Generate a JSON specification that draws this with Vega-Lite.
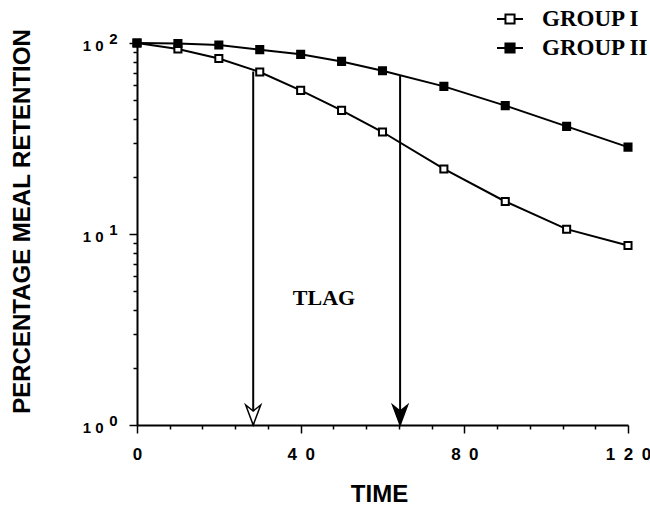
{
  "$schema": "https://vega.github.io/schema/vega-lite/v6.json",
  "width": 491,
  "height": 382,
  "autosize": {"type": "none"},
  "padding": {"left": 137, "top": 43, "right": 22, "bottom": 81},
  "background": "white",
  "config": {
    "view": {"stroke": null},
    "axis": {
      "grid": false,
      "domainColor": "black",
      "domainWidth": 2,
      "tickColor": "black",
      "tickWidth": 1.5,
      "labelColor": "black",
      "labelFont": "Liberation Sans",
      "labelFontWeight": "bold",
      "titleFont": "Liberation Sans",
      "titleFontWeight": "bold",
      "titleColor": "black"
    }
  },
  "datasets": {
    "retention": [
      {"time": 0, "pct": 100, "group": "GROUP I"},
      {"time": 10, "pct": 93, "group": "GROUP I"},
      {"time": 20, "pct": 83, "group": "GROUP I"},
      {"time": 30, "pct": 70.5, "group": "GROUP I"},
      {"time": 40, "pct": 56.5, "group": "GROUP I"},
      {"time": 50, "pct": 44.4, "group": "GROUP I"},
      {"time": 60, "pct": 34.2, "group": "GROUP I"},
      {"time": 75, "pct": 21.9, "group": "GROUP I"},
      {"time": 90, "pct": 14.8, "group": "GROUP I"},
      {"time": 105, "pct": 10.6, "group": "GROUP I"},
      {"time": 120, "pct": 8.7, "group": "GROUP I"},
      {"time": 0, "pct": 100, "group": "GROUP II"},
      {"time": 10, "pct": 99.5, "group": "GROUP II"},
      {"time": 20, "pct": 97.6, "group": "GROUP II"},
      {"time": 30, "pct": 92.3, "group": "GROUP II"},
      {"time": 40, "pct": 87.2, "group": "GROUP II"},
      {"time": 50, "pct": 80.1, "group": "GROUP II"},
      {"time": 60, "pct": 71.6, "group": "GROUP II"},
      {"time": 75, "pct": 59.3, "group": "GROUP II"},
      {"time": 90, "pct": 47, "group": "GROUP II"},
      {"time": 105, "pct": 36.6, "group": "GROUP II"},
      {"time": 120, "pct": 28.5, "group": "GROUP II"}
    ],
    "arrows": [
      {"time": 28.4, "pct": 71, "pct2": 1, "kind": "open"},
      {"time": 64.3, "pct": 68, "pct2": 1, "kind": "filled"}
    ],
    "heads": [
      {"time": 28.4, "pct": 1, "kind": "open"},
      {"time": 64.3, "pct": 1, "kind": "filled"}
    ],
    "notes": [
      {"time": 45.7, "pct": 4.6, "label": "TLAG"}
    ]
  },
  "encoding": {
    "x": {
      "field": "time",
      "type": "quantitative",
      "scale": {"domain": [0, 120], "nice": false, "zero": false},
      "axis": {
        "title": "TIME",
        "titleFontSize": 24,
        "titleX": 242,
        "titleY": 76,
        "titleAlign": "center",
        "titleBaseline": "alphabetic",
        "values": [0, 8, 16, 24, 32, 40, 48, 56, 64, 72, 80, 88, 96, 104, 112, 120],
        "labelExpr": "datum.value == 0 ? '0' : datum.value == 40 ? '4\u20020' : datum.value == 80 ? '8\u20020' : datum.value == 120 ? '1\u20022\u20020' : ''",
        "labelFontSize": 17,
        "tickSize": {"condition": {"test": "datum.value % 40 === 0", "value": 8}, "value": 4},
        "labelPadding": 13,
        "labelFlush": false,
        "labelOverlap": false
      }
    }
  },
  "resolve": {"axis": {"y": "independent"}},
  "layer": [
    {
      "data": {"name": "retention"},
      "mark": {"type": "line", "color": "black", "strokeWidth": 2},
      "encoding": {
        "y": {
          "field": "pct",
          "type": "quantitative",
          "scale": {"type": "log", "domain": [1, 100], "nice": false},
          "axis": {
            "orient": "left",
            "title": "PERCENTAGE MEAL RETENTION",
            "titleFontSize": 24,
            "titleX": -103,
            "titleY": 178,
            "titleAngle": -90,
            "titleAlign": "center",
            "titleBaseline": "bottom",
            "values": [1, 2, 3, 4, 5, 6, 7, 8, 9, 10, 20, 30, 40, 50, 60, 70, 80, 90, 100],
            "labelExpr": "datum.value == 100 || datum.value == 10 || datum.value == 1 ? '1 0' : ''",
            "labelFontSize": 15,
            "labelBaseline": "alphabetic",
            "labelAlign": "right",
            "labelOffset": 7,
            "tickSize": {"condition": {"test": "datum.value === 1 || datum.value === 10 || datum.value === 100", "value": 8}, "value": 4},
            "labelPadding": 26,
            "labelFlush": false,
            "labelOverlap": false
          }
        },
        "detail": {"field": "group", "type": "nominal"}
      }
    },
    {
      "data": {"name": "retention"},
      "mark": {"type": "point", "shape": "square", "size": 50, "filled": true, "stroke": "black", "strokeWidth": 2, "opacity": 1},
      "encoding": {
        "y": {"field": "pct", "type": "quantitative", "scale": {"type": "log", "domain": [1, 100], "nice": false}, "axis": null},
        "fill": {
          "field": "group",
          "type": "nominal",
          "scale": {"domain": ["GROUP I", "GROUP II"], "range": ["white", "black"]},
          "legend": {
            "orient": "none",
            "legendX": 359,
            "legendY": -38,
            "title": null,
            "padding": 0,
            "symbolType": "M-1,0H-0.35M0.35,0H1M-0.35,-0.35H0.35V0.35H-0.35Z",
            "symbolSize": 676,
            "symbolStrokeWidth": 2,
            "symbolStrokeColor": "black",
            "symbolOpacity": 1,
            "labelFont": "Liberation Serif",
            "labelFontWeight": "bold",
            "labelFontSize": 23,
            "labelColor": "black",
            "labelOffset": 18,
            "rowPadding": 3
          }
        }
      }
    },
    {
      "data": {"name": "arrows"},
      "mark": {"type": "rule", "color": "black", "strokeWidth": 2},
      "encoding": {
        "y": {"field": "pct", "type": "quantitative", "scale": {"type": "log", "domain": [1, 100], "nice": false}, "axis": null},
        "y2": {"field": "pct2"}
      }
    },
    {
      "data": {"name": "heads"},
      "mark": {"type": "point", "shape": "M-0.75,-2L0,0L0.75,-2L0,-1.4Z", "size": 400, "stroke": "black", "strokeWidth": 1.5, "opacity": 1, "filled": true},
      "encoding": {
        "y": {"field": "pct", "type": "quantitative", "scale": {"type": "log", "domain": [1, 100], "nice": false}, "axis": null},
        "fill": {"condition": {"test": "datum.kind === 'open'", "value": "white"}, "value": "black"}
      }
    },
    {
      "data": {"name": "notes"},
      "mark": {"type": "text", "font": "Liberation Serif", "fontWeight": "bold", "fontSize": 22, "color": "black", "align": "center", "baseline": "middle"},
      "encoding": {
        "y": {
          "field": "pct",
          "type": "quantitative",
          "scale": {"type": "log", "domain": [1, 100], "nice": false},
          "axis": {
            "orient": "left",
            "title": null,
            "domain": false,
            "ticks": false,
            "tickSize": 0,
            "values": [1, 10, 100],
            "labelExpr": "datum.value == 100 ? '2' : datum.value == 10 ? '1' : '0'",
            "labelFontSize": 15,
            "labelBaseline": "alphabetic",
            "labelAlign": "right",
            "labelOffset": 0,
            "labelPadding": 20,
            "labelFlush": false,
            "labelOverlap": false
          }
        },
        "text": {"field": "label"}
      }
    }
  ]
}
